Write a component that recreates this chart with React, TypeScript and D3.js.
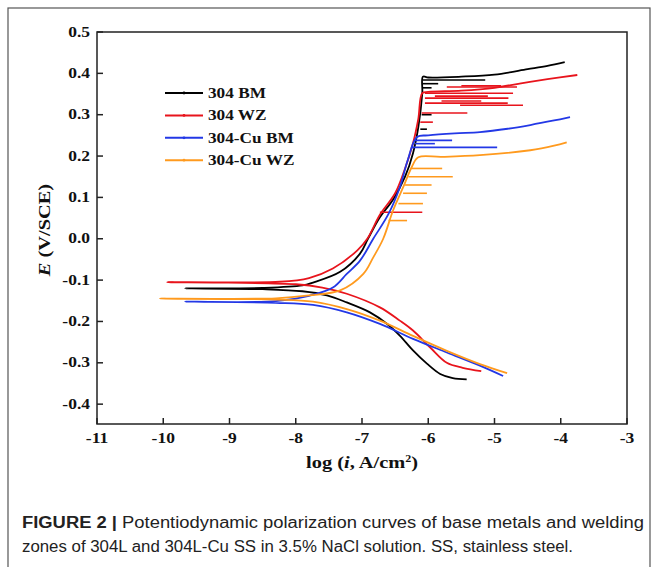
import React from "react";
import * as d3 from "d3";

// polarization curves: [log i, E] along the sweep (cathodic end -> Ecorr -> anodic)
const bm304: [number, number][] = [
  [-5.42, -0.34], [-5.63, -0.337], [-5.82, -0.327], [-6.02, -0.302], [-6.23, -0.27],
  [-6.43, -0.234], [-6.62, -0.206], [-6.88, -0.178], [-7.23, -0.154], [-7.53, -0.137],
  [-7.9, -0.127], [-8.5, -0.122], [-9.67, -0.12], [-8.5, -0.119], [-7.9, -0.113],
  [-7.74, -0.106], [-7.33, -0.08], [-7.03, -0.036], [-6.91, 0.0], [-6.73, 0.052],
  [-6.53, 0.095], [-6.35, 0.15], [-6.23, 0.207], [-6.15, 0.27], [-6.09, 0.352],
  [-6.08, 0.392], [-6.0, 0.39], [-5.5, 0.392], [-5.0, 0.397], [-4.5, 0.41],
  [-4.2, 0.418], [-3.94, 0.427],
];
const wz304: [number, number][] = [
  [-5.2, -0.32], [-5.48, -0.312], [-5.72, -0.3], [-5.97, -0.263], [-6.23, -0.222],
  [-6.43, -0.198], [-6.73, -0.166], [-7.23, -0.133], [-7.6, -0.118], [-8.0, -0.11],
  [-9.94, -0.105], [-8.24, -0.104], [-7.8, -0.095], [-7.44, -0.072], [-7.07, -0.028],
  [-6.92, 0.0], [-6.73, 0.058], [-6.5, 0.11], [-6.35, 0.17], [-6.23, 0.231],
  [-6.15, 0.29], [-6.09, 0.352], [-6.0, 0.355], [-5.5, 0.358], [-5.0, 0.365],
  [-4.6, 0.376], [-4.2, 0.386], [-3.75, 0.396],
];
const cuBm: [number, number][] = [
  [-4.87, -0.332], [-5.22, -0.307], [-5.72, -0.275], [-6.23, -0.242], [-6.73, -0.206],
  [-7.23, -0.178], [-7.74, -0.16], [-8.3, -0.155], [-9.67, -0.152], [-8.3, -0.151],
  [-7.8, -0.138], [-7.44, -0.118], [-7.23, -0.085], [-7.03, -0.053], [-6.83, 0.0],
  [-6.6, 0.06], [-6.43, 0.124], [-6.31, 0.19], [-6.17, 0.246], [-6.0, 0.25],
  [-5.6, 0.255], [-5.22, 0.258], [-4.8, 0.266], [-4.46, 0.275], [-4.1, 0.286],
  [-3.86, 0.294],
];
const cuWz: [number, number][] = [
  [-4.81, -0.325], [-5.22, -0.303], [-5.72, -0.271], [-6.23, -0.235], [-6.73, -0.198],
  [-7.23, -0.17], [-7.74, -0.152], [-8.3, -0.147], [-10.05, -0.145], [-8.3, -0.144],
  [-7.8, -0.137], [-7.33, -0.125], [-6.98, -0.085], [-6.83, -0.045], [-6.68, 0.0],
  [-6.53, 0.069], [-6.38, 0.124], [-6.25, 0.173], [-6.15, 0.197], [-5.8, 0.198],
  [-5.22, 0.202], [-4.46, 0.214], [-4.1, 0.225], [-3.91, 0.233],
];

// metastable pitting transients: [E, log i start, log i end]
const bm304Spikes: [number, number, number][] = [
  [0.384, -6.08, -5.14], [0.375, -6.08, -5.85], [0.365, -6.08, -5.95],
  [0.3, -6.1, -5.95], [0.265, -6.12, -6.02],
];
const wz304Spikes: [number, number, number][] = [
  [0.37, -5.5, -4.9], [0.367, -5.72, -4.66], [0.352, -6.05, -4.72], [0.345, -5.9, -5.1],
  [0.34, -6.05, -4.79], [0.333, -5.8, -5.2], [0.328, -6.05, -4.8], [0.323, -5.52, -4.57],
  [0.304, -6.1, -5.41], [0.282, -6.12, -5.93], [0.064, -6.73, -6.09],
];
const cuBmSpikes: [number, number, number][] = [
  [0.238, -6.2, -5.64], [0.23, -6.2, -5.9], [0.221, -6.25, -4.96],
];
const cuWzSpikes: [number, number, number][] = [
  [0.17, -6.25, -5.79], [0.15, -6.3, -5.63], [0.13, -6.35, -5.95],
  [0.11, -6.38, -6.02], [0.085, -6.45, -6.08], [0.044, -6.6, -6.32],
];

const seriesNames = ["304 BM", "304 WZ", "304-Cu BM", "304-Cu WZ"];
const seriesColors = ["#000000", "#e8141c", "#2338e6", "#ff9a1e"];
const seriesData = [bm304, wz304, cuBm, cuWz];
const seriesSpikes = [bm304Spikes, wz304Spikes, cuBmSpikes, cuWzSpikes];

const xTicks = [-11, -10, -9, -8, -7, -6, -5, -4, -3];
const yTicks = [-0.4, -0.3, -0.2, -0.1, 0.0, 0.1, 0.2, 0.3, 0.4, 0.5];

const W = 657;
const H = 567;
const serif = "'Liberation Serif', 'Times New Roman', serif";

function Txt(props: {
  x: number; y: number; sx?: number; anchor?: string; size: number;
  rotate?: number; children: React.ReactNode;
}) {
  const { x, y, sx = 1.2, anchor = "middle", size, rotate = 0, children } = props;
  return (
    <g transform={`translate(${x},${y}) rotate(${rotate}) scale(${sx},1)`}>
      <text textAnchor={anchor} fontFamily={serif} fontWeight="bold" fontSize={size} fill="#111">
        {children}
      </text>
    </g>
  );
}

export default function App() {
  const x = d3.scaleLinear().domain([-11, -3]).range([97, 627]);
  const y = d3.scaleLinear().domain([-0.448, 0.5]).range([424, 32]);

  const line = d3
    .line<[number, number]>()
    .x((d) => x(d[0]))
    .y((d) => y(d[1]))
    .curve(d3.curveCatmullRom.alpha(0.5));

  const fmt = (v: number) => (Math.abs(v) < 1e-9 ? "0.0" : v.toFixed(1));

  return (
    <svg width={W} height={H} style={{ position: "absolute", left: 0, top: 0 }}>
      <rect x={0} y={0} width={W} height={H} fill="#fff" />
      <rect x={8} y={8} width={642} height={600} fill="none" stroke="#555" strokeWidth={1.2} />

      {/* curves */}
      {seriesData.map((d, i) => (
        <g key={seriesNames[i]}>
          <path d={line(d) || ""} fill="none" stroke={seriesColors[i]} strokeWidth={1.8} />
          {seriesSpikes[i].map((s, j) => (
            <line
              key={j}
              x1={x(s[1])}
              x2={x(s[2])}
              y1={y(s[0])}
              y2={y(s[0])}
              stroke={seriesColors[i]}
              strokeWidth={1.6}
            />
          ))}
        </g>
      ))}

      {/* axes frame */}
      <rect x={97} y={32} width={530} height={392} fill="none" stroke="#222" strokeWidth={1.5} />
      {xTicks.map((t) => (
        <g key={t}>
          <line x1={x(t)} x2={x(t)} y1={424} y2={418} stroke="#222" strokeWidth={1.5} />
          <Txt x={x(t)} y={443} size={14} sx={1.25}>{String(t)}</Txt>
        </g>
      ))}
      {yTicks.map((t) => (
        <g key={t}>
          <line x1={97} x2={103} y1={y(t)} y2={y(t)} stroke="#222" strokeWidth={1.5} />
          <Txt x={90} y={y(t) + 4.5} size={14} sx={1.25} anchor="end">{fmt(t)}</Txt>
        </g>
      ))}

      {/* axis titles */}
      <Txt x={362} y={468} size={17} sx={1.2}>
        log (<tspan fontStyle="italic">i</tspan>, A/cm
        <tspan dy={-6} fontSize={10}>2</tspan>
        <tspan dy={6}>)</tspan>
      </Txt>
      <Txt x={50} y={230} size={17} sx={1.2} rotate={-90}>
        <tspan fontStyle="italic">E</tspan> (V/SCE)
      </Txt>

      {/* legend */}
      {seriesNames.map((n, i) => {
        const ly = 93 + i * 22.4;
        return (
          <g key={n}>
            <line x1={165} x2={203} y1={ly} y2={ly} stroke={seriesColors[i]} strokeWidth={2} />
            <circle cx={184} cy={ly} r={1.4} fill={seriesColors[i]} />
            <Txt x={208} y={ly + 5} size={15} sx={1.15} anchor="start">{n}</Txt>
          </g>
        );
      })}

      {/* caption */}
      <text x={22} y={528} fontFamily="'Liberation Sans', Arial, sans-serif" fontSize={16} fill="#222"
        textLength={622} lengthAdjust="spacingAndGlyphs">
        <tspan fontWeight="bold">FIGURE 2 |</tspan> Potentiodynamic polarization curves of base metals and welding
      </text>
      <text x={22} y={552} fontFamily="'Liberation Sans', Arial, sans-serif" fontSize={16} fill="#222"
        textLength={551} lengthAdjust="spacingAndGlyphs">
        zones of 304L and 304L-Cu SS in 3.5% NaCl solution. SS, stainless steel.
      </text>
    </svg>
  );
}
